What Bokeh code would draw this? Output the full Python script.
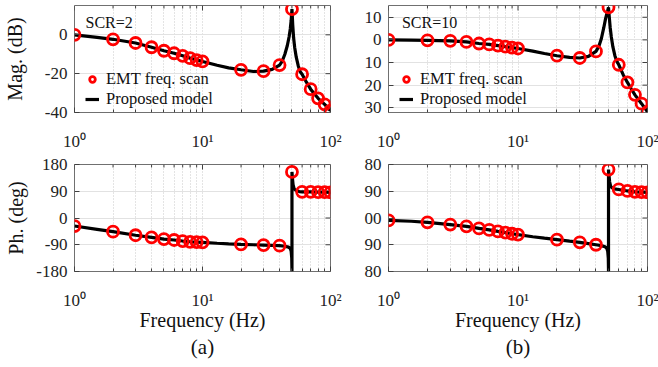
from bokeh.plotting import figure
from bokeh.layouts import gridplot
from bokeh.models import (FixedTicker, CustomJSTickFormatter, Legend, LegendItem,
                          Label, Title, Range1d)
from bokeh.embed import file_html
from bokeh.resources import INLINE

# ---------------- data ----------------
freq_scan = [1, 2, 3, 4, 5, 6, 7, 8, 9, 10, 20, 30, 40, 50, 60, 70, 80, 90, 100]
mag_a_scan = [0.0, -2.3, -4.2, -6.4, -8.2, -9.5, -10.8, -12.0, -13.0, -13.7,
              -18.0, -18.7, -15.6, 13.2, -20.3, -28.0, -32.7, -35.8, -39.0]
mag_b_scan = [0.0, -0.2, -0.4, -0.9, -1.6, -2.0, -2.5, -3.0, -3.4, -3.8,
              -7.0, -8.0, -5.1, 14.4, -11.0, -18.8, -24.3, -28.2, -31.8]
ph_a_scan = [-27, -46, -58, -65, -71, -74, -77.5, -80, -81, -82,
             -89, -91, -93, 155, 88, 88, 87, 87, 86]
ph_b_scan = [-8, -14.5, -22, -28, -35, -40, -45, -49, -53, -56,
             -73, -82, -90, 163, 96, 91, 88, 87, 86]

freq_mag_line = [1, 1.5, 2, 3, 4, 5, 6, 7, 8, 9, 10, 13, 16, 20, 25, 30, 35, 40,
                 42, 44, 46, 47.5, 48.5, 49.3, 50, 50.7, 51.5, 52.5, 54, 56, 58,
                 60, 65, 70, 75, 80, 90, 100]
mag_a_line = [0.0, -1.3, -2.3, -4.2, -6.4, -8.2, -9.5, -10.8, -12.0, -13.0, -13.7,
              -15.7, -17.0, -18.0, -18.9, -18.7, -17.8, -15.6, -13.5, -10.0, -5.5,
              -1.0, 3.0, 7.5, 13.2, 5.0, -1.5, -6.5, -11.5, -16.0, -19.0, -20.3,
              -24.5, -28.0, -30.5, -32.7, -35.8, -39.0]
mag_b_line = [0.0, -0.1, -0.2, -0.4, -0.9, -1.6, -2.0, -2.5, -3.0, -3.4, -3.8,
              -5.0, -6.0, -7.0, -7.7, -8.0, -7.3, -5.1, -3.0, 0.5, 5.5, 9.5,
              11.5, 13.0, 14.4, 10.0, 5.5, 1.5, -3.0, -7.0, -9.5, -11.0, -15.5,
              -18.8, -21.7, -24.3, -28.2, -31.8]

freq_ph_line = [1, 1.5, 2, 3, 4, 5, 6, 7, 8, 9, 10, 13, 16, 20, 25, 30, 35, 40,
                44, 47, 48.5, 49.3, 49.8, 50, 50, 50.4, 51, 52, 54, 57, 60, 70,
                80, 90, 100]
ph_a_line = [-27, -38, -46, -58, -65, -71, -74, -77.5, -80, -81, -82, -85, -87,
             -89, -90, -91, -92, -93, -95, -98, -102, -112, -135, -180, 155,
             135, 112, 98, 92, 89, 88, 88, 87, 87, 86]
ph_b_line = [-8, -11, -14.5, -22, -28, -35, -40, -45, -49, -53, -56, -63, -68,
             -73, -78, -82, -86, -90, -93, -97, -102, -112, -135, -180, 163,
             145, 122, 106, 100, 97, 96, 91, 88, 87, 86]

x_ticks = [1, 10, 100]
x_minor = [2, 3, 4, 5, 6, 7, 8, 9, 20, 30, 40, 50, 60, 70, 80, 90]
mag_a_ticks = [-40, -20, 0]
mag_a_labels = ["-40", "-20", "0"]
mag_b_ticks = [-30, -20, -10, 0, 10]
mag_b_labels = ["30", "20", "10", "0", "10"]
ph_ticks = [-180, -90, 0, 90, 180]
ph_a_labels = ["-180", "-90", "0", "90", "180"]
ph_b_labels = ["80", "90", "00", "90", "80"]

FONT = "Liberation Serif"
RED = "#ff0000"
FRAME_H = 107
TICK_COLOR = "#404040"

x_fmt_code = """
const e = Math.round(Math.log10(tick));
const sup = {0: '\u2070', 1: '\u00b9', 2: '\u00b2'};
return '10' + sup[e];
"""
y_fmt_code = """
for (let i = 0; i < ticks_v.length; i++) {
  if (Math.abs(ticks_v[i] - tick) < 1e-6) return labels_v[i];
}
return '';
"""


def make_fig(left, right, top, bottom, fw, yr, yticks, ylabels, ylabel=None,
             xlabel=None, sub=None, label_standoff=10):
    p = figure(x_axis_type="log", x_range=Range1d(1, 100), y_range=Range1d(*yr),
               frame_width=fw, frame_height=FRAME_H, min_border_left=left,
               min_border_right=right, min_border_top=top, min_border_bottom=bottom,
               output_backend="svg", toolbar_location=None)
    p.background_fill_color = "white"
    p.outline_line_color = "#707070"
    p.outline_line_width = 1
    xa = p.xaxis[0]
    xa.ticker = FixedTicker(ticks=x_ticks, minor_ticks=x_minor)
    xa.formatter = CustomJSTickFormatter(code=x_fmt_code)
    ya = p.yaxis[0]
    ya.ticker = FixedTicker(ticks=yticks)
    ya.formatter = CustomJSTickFormatter(args=dict(ticks_v=yticks, labels_v=ylabels),
                                         code=y_fmt_code)
    for ax in (xa, ya):
        ax.axis_line_color = None
        ax.major_tick_in = 5
        ax.major_tick_out = 0
        ax.major_tick_line_color = TICK_COLOR
        ax.minor_tick_in = 3
        ax.minor_tick_out = 0
        ax.minor_tick_line_color = TICK_COLOR
        ax.major_label_text_font = FONT
        ax.major_label_text_font_size = "17px"
        ax.major_label_text_color = "#222222"
        ax.axis_label_text_font = FONT
        ax.axis_label_text_font_size = "20px"
        ax.axis_label_text_font_style = "normal"
        ax.axis_label_text_color = "#111111"
    ya.minor_tick_line_color = None
    xa.major_label_standoff = 19
    ya.major_label_standoff = 7
    if ylabel:
        ya.axis_label = ylabel
        ya.axis_label_standoff = label_standoff
    if xlabel:
        xa.axis_label = xlabel
        xa.axis_label_standoff = -4
    p.xgrid.grid_line_color = "#c8c8c8"
    p.xgrid.grid_line_dash = "1 2"
    p.xgrid.minor_grid_line_color = "#c8c8c8"
    p.xgrid.minor_grid_line_dash = "1 2"
    p.ygrid.grid_line_color = "#e2e2e2"
    p.ygrid.grid_line_width = 1
    if sub:
        t = Title(text=sub, align="center", text_font=FONT, text_font_size="21px",
                  text_font_style="normal", text_color="#111111", standoff=-1)
        p.add_layout(t, "below")

    # box ticks on the right and top edges (mirroring the left/bottom ticks)
    y0, y1 = yr
    dy_major = 5 * (y1 - y0) / FRAME_H
    dy_minor = 3 * (y1 - y0) / FRAME_H
    x_in = 100 / 10 ** (5 * 2 / fw)
    p.segment(x0=[x_in] * len(yticks), y0=yticks, x1=[100] * len(yticks), y1=yticks,
              line_color=TICK_COLOR, line_width=1)
    p.segment(x0=x_ticks, y0=[y1 - dy_major] * len(x_ticks), x1=x_ticks,
              y1=[y1] * len(x_ticks), line_color=TICK_COLOR, line_width=1)
    p.segment(x0=x_minor, y0=[y1 - dy_minor] * len(x_minor), x1=x_minor,
              y1=[y1] * len(x_minor), line_color=TICK_COLOR, line_width=1)
    return p


def add_mag(p, fl, yl, fs, ys, scr, scr_x, scr_y):
    ln = p.line(fl, yl, line_color="black", line_width=3.2)
    sc = p.scatter(fs, ys, marker="circle", size=11, fill_color=None,
                   line_color=RED, line_width=2.8)
    leg = Legend(items=[LegendItem(label="EMT freq. scan", renderers=[sc]),
                        LegendItem(label="Proposed model", renderers=[ln])],
                 location=(11, 3), padding=0, margin=0, spacing=0,
                 glyph_width=14, glyph_height=20, label_height=20,
                 label_standoff=7, label_text_font=FONT,
                 label_text_font_size="16.5px", label_text_color="#111111",
                 background_fill_alpha=0, border_line_color=None)
    p.add_layout(leg)
    p.add_layout(Label(x=scr_x, y=scr_y, text=scr, text_font=FONT,
                       text_font_size="16px", text_baseline="middle",
                       text_color="#111111"))


def add_ph(p, fl, yl, fs, ys):
    p.line(fl, yl, line_color="black", line_width=3.2)
    p.scatter(fs, ys, marker="circle", size=11, fill_color=None,
              line_color=RED, line_width=2.8)


# top-left
p1 = make_fig(74, 15, 5, 28, 256, (-40, 15.1), mag_a_ticks, mag_a_labels,
              ylabel="Mag. (dB)", label_standoff=16)
add_mag(p1, freq_mag_line, mag_a_line, freq_scan, mag_a_scan, "SCR=2", 1.22, 6.4)
# top-right
p2 = make_fig(43, 11, 5, 28, 259, (-32.1, 15.2), mag_b_ticks, mag_b_labels)
add_mag(p2, freq_mag_line, mag_b_line, freq_scan, mag_b_scan, "SCR=10", 1.27, 7.6)
# bottom-left
p3 = make_fig(74, 15, 11, 95, 256, (-180, 180), ph_ticks, ph_a_labels,
              ylabel="Ph. (deg)", xlabel="Frequency (Hz)", sub="(a)", label_standoff=6)
add_ph(p3, freq_ph_line, ph_a_line, freq_scan, ph_a_scan)
# bottom-right
p4 = make_fig(43, 11, 11, 95, 259, (-180, 180), ph_ticks, ph_b_labels,
              xlabel="Frequency (Hz)", sub="(b)")
add_ph(p4, freq_ph_line, ph_b_line, freq_scan, ph_b_scan)

grid = gridplot([[p1, p2], [p3, p4]], toolbar_location=None)

with open("out.html", "w") as f:
    f.write(file_html(grid, INLINE))
